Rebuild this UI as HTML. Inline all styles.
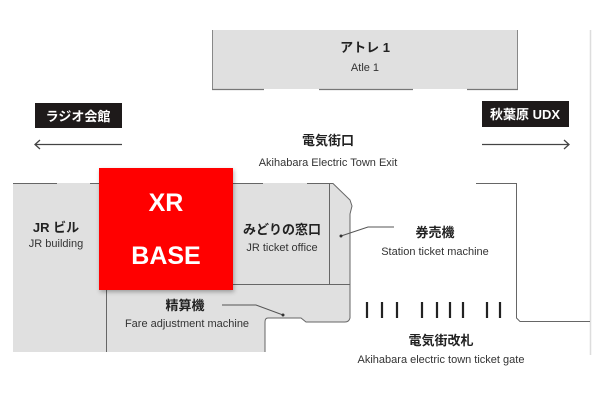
<!DOCTYPE html>
<html><head><meta charset="utf-8"><style>
body{margin:0;background:#fff;width:605px;height:408px;overflow:hidden}
svg{display:block}
text{font-family:"Liberation Sans","Noto Sans CJK JP",sans-serif}
</style></head><body>
<svg width="605" height="408" viewBox="0 0 605 408">
<rect x="212" y="30" width="306" height="59" fill="#e0e0e0"/>
<path d="M212.5 30V89.5M517.5 30V89.5" stroke="#888" stroke-width="1"/>
<path d="M212 89.5H264M319 89.5H413M467 89.5H518" stroke="#777" stroke-width="1.2"/>
<line x1="590.5" y1="30" x2="590.5" y2="355" stroke="#ddd" stroke-width="1.5"/>
<rect x="35" y="103" width="87" height="25" fill="#1e1a1a"/>
<rect x="482" y="101" width="87" height="26" fill="#1e1a1a"/>
<path d="M35 144.5H122M40 140L35 144.5L40 149" stroke="#444" stroke-width="1.3" fill="none"/>
<path d="M482 144.5H569M564 140L569 144.5L564 149" stroke="#444" stroke-width="1.3" fill="none"/>
<line x1="135" y1="175" x2="135" y2="183" stroke="#666"/>
<path d="M13 183H333L350 200L352 206L350 214V318Q349 322 345 322H306L301 318H268Q265 318 265 322V352H13Z" fill="#e0e0e0"/>
<path d="M13 183.5H57M90 183.5H99M233 183.5H263M307 183.5H333L350 200L352 206L350 214V318Q349 322 345 322H306L301 318H268Q265 318 265 322V352" stroke="#666" stroke-width="1" fill="none"/>
<path d="M329.5 183V284M233 284.5H350M106.5 290V352" stroke="#666" stroke-width="1" fill="none"/>
<path d="M476 183.5H516.5V318L520 321.5H590" stroke="#666" stroke-width="1" fill="none"/>
<g stroke="#222" stroke-width="2.2">
<path d="M367 302V318M382 302V318M397 302V318M422 302V318M437 302V318M450 302V318M463 302V318M487 302V318M500 302V318"/>
</g>
<path d="M341 236L368 227H394" stroke="#555" fill="none"/><circle cx="341" cy="236" r="1.5" fill="#333"/>
<path d="M222 305H256L283 315" stroke="#555" fill="none"/><circle cx="283" cy="315" r="1.5" fill="#333"/>
<rect x="99" y="168" width="134" height="122" fill="#ff0000" style="filter:drop-shadow(1px 2px 2px rgba(0,0,0,.3))"/>
<g style="fill:#222" font-weight="bold" font-size="13" text-anchor="middle">
<text x="365" y="52">アトレ 1</text>
<text x="328" y="145">電気街口</text>
<text x="56" y="232">JR ビル</text>
<text x="282" y="234">みどりの窓口</text>
<text x="435" y="237">券売機</text>
<text x="185" y="310">精算機</text>
<text x="441" y="345">電気街改札</text>
</g>
<g style="fill:#333" font-size="11" text-anchor="middle">
<text x="365" y="71">Atle 1</text>
<text x="328" y="166">Akihabara Electric Town Exit</text>
<text x="56" y="247">JR building</text>
<text x="282" y="251">JR ticket office</text>
<text x="435" y="255">Station ticket machine</text>
<text x="187" y="327">Fare adjustment machine</text>
<text x="441" y="363">Akihabara electric town ticket gate</text>
</g>
<g style="fill:#fff" font-weight="bold" text-anchor="middle">
<text x="78" y="121" font-size="13">ラジオ会館</text>
<text x="525" y="119" font-size="13">秋葉原 UDX</text>
<text x="166" y="211" font-size="25">XR</text>
<text x="166" y="264" font-size="25">BASE</text>
</g>
</svg>
</body></html>
